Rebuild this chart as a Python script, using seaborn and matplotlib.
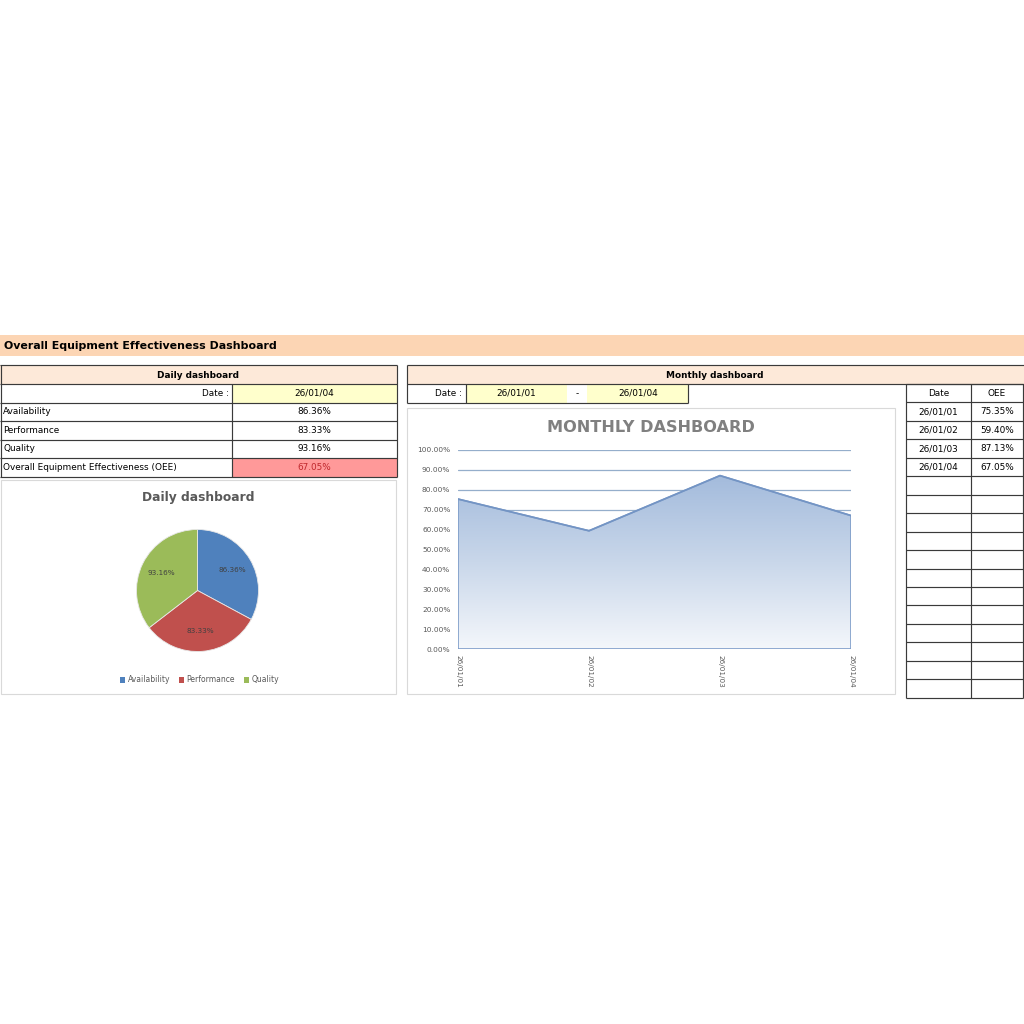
"""OEE dashboard recreation (daily table + pie, monthly area chart + table)."""

import matplotlib
matplotlib.use("Agg")
import matplotlib.pyplot as plt
from matplotlib.patches import Rectangle, Patch
from matplotlib.colors import LinearSegmentedColormap
import numpy as np
import seaborn as sns

# --------------------------------------------------------
#       DATA
# --------------------------------------------------------
dashboard_title = "Overall Equipment Effectiveness Dashboard"
daily_date = "26/01/04"
daily_metrics = ["Availability", "Performance", "Quality"]
daily_values = [86.36, 83.33, 93.16]
oee_label = "Overall Equipment Effectiveness (OEE)"
oee_value = 67.05

range_start = "26/01/01"
range_end = "26/01/04"
monthly_dates = ["26/01/01", "26/01/02", "26/01/03", "26/01/04"]
monthly_oee = [75.35, 59.40, 87.13, 67.05]
n_table_rows = 16     # rows under the Date/OEE header
y_ticks = [0, 10, 20, 30, 40, 50, 60, 70, 80, 90, 100]

# colours
PEACH = "#FCD5B4"
PEACH_LIGHT = "#FDE9D9"
YELLOW = "#FFFFCC"
PINK = "#FF9999"
LINE = "#3A3A3A"
BOX = "#D9D9D9"
pie_colors = ["#4F81BD", "#C0504D", "#9BBB59"]

W = 1024


def fx(px):
    return px / W


def fy(py):
    return 1 - py / W


def cell(ax, x0, y0, x1, y1, fc="none", ec=LINE, lw=0.8, z=1):
    ax.add_patch(Rectangle((x0, y0), x1 - x0, y1 - y0, facecolor=fc,
                           edgecolor=ec, linewidth=lw, zorder=z))


def hline(ax, y, x0, x1, color=LINE, lw=0.85):
    ax.plot([x0, x1], [y, y], color=color, lw=lw, zorder=3, solid_capstyle="butt")


def vline(ax, x, y0, y1, color=LINE, lw=0.85):
    ax.plot([x, x], [y0, y1], color=color, lw=lw, zorder=3, solid_capstyle="butt")


sns.set_theme(style="white")
plt.rcParams["font.family"] = ["DejaVu Sans"]
plt.rcParams["text.color"] = "black"
FS = 6.4

fig = plt.figure(figsize=(10.24, 10.24), dpi=100)
fig.patch.set_facecolor("white")

# background "sheet" axes in pixel coordinates
bg = fig.add_axes([0, 0, 1, 1])
bg.set_xlim(0, W)
bg.set_ylim(W, 0)
bg.axis("off")

# ---- title bar ----
cell(bg, 0, 335, W, 356, fc=PEACH, ec="none")
bg.text(4, 346, dashboard_title, fontsize=7.9, fontweight="bold",
        va="center", ha="left")

# ---- daily table ----
cell(bg, 0, 365, 397, 384, fc=PEACH_LIGHT, ec="none")
bg.text(198, 375, "Daily dashboard", fontsize=FS, fontweight="bold",
        ha="center", va="center")
row_edges = [384, 402.5, 421, 439.5, 458, 476.5]
cell(bg, 232, row_edges[0], 397, row_edges[1], fc=YELLOW, ec="none")
cell(bg, 232, row_edges[4], 397, row_edges[5], fc=PINK, ec="none")
bg.text(229, (row_edges[0] + row_edges[1]) / 2, "Date :", fontsize=FS,
        ha="right", va="center")
bg.text(314, (row_edges[0] + row_edges[1]) / 2, daily_date, fontsize=FS,
        ha="center", va="center")
for i, (name, val) in enumerate(zip(daily_metrics, daily_values)):
    yc = (row_edges[i + 1] + row_edges[i + 2]) / 2
    bg.text(3, yc, name, fontsize=FS, ha="left", va="center")
    bg.text(314, yc, f"{val:.2f}%", fontsize=FS, ha="center", va="center")
yc = (row_edges[4] + row_edges[5]) / 2
bg.text(3, yc, oee_label, fontsize=FS, ha="left", va="center")
bg.text(314, yc, f"{oee_value:.2f}%", fontsize=FS, ha="center", va="center",
        color="#C0282D")
for y in [365] + row_edges:
    hline(bg, y, 0, 397)
vline(bg, 0.5, 365, row_edges[-1])
vline(bg, 397, 365, row_edges[-1])
vline(bg, 232, row_edges[0], row_edges[-1])

# ---- daily pie box ----
cell(bg, 0.5, 480, 396, 694, fc="white", ec=BOX, lw=0.8)
bg.text(198, 497, "Daily dashboard", fontsize=8.8, fontweight="bold",
        ha="center", va="center", color="#595959")

# ---- monthly header ----
cell(bg, 407, 365, W, 384, fc=PEACH_LIGHT, ec="none")
bg.text(715, 375, "Monthly dashboard", fontsize=FS, fontweight="bold",
        ha="center", va="center")
hline(bg, 365, 407, W)
hline(bg, 384, 407, W)
vline(bg, 407, 365, 402.5)

# date range row
cell(bg, 466, 384, 567, 402.5, fc=YELLOW, ec="none")
cell(bg, 587, 384, 688, 402.5, fc=YELLOW, ec="none")
ymid = (384 + 402.5) / 2
bg.text(462, ymid, "Date :", fontsize=FS, ha="right", va="center")
bg.text(516, ymid, range_start, fontsize=FS, ha="center", va="center")
bg.text(577, ymid, "-", fontsize=FS, ha="center", va="center")
bg.text(638, ymid, range_end, fontsize=FS, ha="center", va="center")
hline(bg, 402.5, 407, 688)
vline(bg, 466, 384, 402.5)
vline(bg, 688, 384, 402.5)

# ---- right-hand table ----
tx0, tx1, tx2 = 906, 971, 1023
ty0, rh = 384, 18.45
n_rows = n_table_rows + 1
for i in range(n_rows + 1):
    hline(bg, ty0 + i * rh, tx0, tx2)
for x in (tx0, tx1, tx2):
    vline(bg, x, ty0, ty0 + n_rows * rh)
bg.text((tx0 + tx1) / 2, ty0 + rh / 2, "Date", fontsize=FS, ha="center", va="center")
bg.text((tx1 + tx2) / 2, ty0 + rh / 2, "OEE", fontsize=FS, ha="center", va="center")
for i, (d, v) in enumerate(zip(monthly_dates, monthly_oee)):
    yc = ty0 + (i + 1.5) * rh
    bg.text((tx0 + tx1) / 2, yc, d, fontsize=FS, ha="center", va="center")
    bg.text((tx1 + tx2) / 2, yc, f"{v:.2f}%", fontsize=FS, ha="center", va="center")

# ---- monthly chart box ----
cell(bg, 407, 408, 895, 694, fc="white", ec=BOX, lw=0.8)
bg.text(651, 428, "MONTHLY DASHBOARD", fontsize=11.6, fontweight="bold",
        ha="center", va="center", color="#808080")

# --------------------------------------------------------
#       PIE
# --------------------------------------------------------
cx, cy, r = 197.5, 590.5, 61
ax_pie = fig.add_axes([fx(cx - r), fy(cy + r), 2 * r / W, 2 * r / W])
total = sum(daily_values)
wedges, _, autotexts = ax_pie.pie(
    daily_values, colors=pie_colors, startangle=90, counterclock=False,
    autopct=lambda p: f"{p * total / 100:.2f}%", pctdistance=0.66,
    wedgeprops=dict(edgecolor="#E8E8E8", linewidth=0.6),
    textprops=dict(fontsize=5.2, color="#404040"))
ax_pie.set_xlim(-1, 1)
ax_pie.set_ylim(-1, 1)
ax_pie.set_aspect("equal")
handles = [Patch(facecolor=c, edgecolor="none") for c in pie_colors]
ax_pie.legend(handles, daily_metrics, loc="center",
              bbox_to_anchor=(fx(199.5), fy(680)), bbox_transform=fig.transFigure,
              ncol=3, frameon=False, handlelength=0.7, handleheight=0.7,
              handletextpad=0.35, columnspacing=1.1,
              prop=dict(size=5.5), labelcolor="#595959")

# --------------------------------------------------------
#       AREA CHART
# --------------------------------------------------------
px0, px1, py_top, py_bot = 458, 851, 450, 649
ax = fig.add_axes([fx(px0), fy(py_bot), (px1 - px0) / W, (py_bot - py_top) / W])
ax.set_facecolor("none")
xpos = np.arange(len(monthly_dates))

for t in y_ticks:
    ax.axhline(t, color="#95AECB", lw=0.9, zorder=0.5)

# opaque base under the gradient so gridlines stay hidden behind the area
ax.fill_between(xpos, 0, monthly_oee, facecolor="white", edgecolor="none", zorder=1)
poly = ax.fill_between(xpos, 0, monthly_oee, facecolor="none",
                       edgecolor="#7E9DC9", linewidth=1.2, zorder=3)
cmap = LinearSegmentedColormap.from_list("oee", ["#F4F7FB", "#C9D7EA", "#A3BBDC"])
grad = np.linspace(0, 1, 256).reshape(-1, 1)
im = ax.imshow(grad, extent=[xpos[0], xpos[-1], 0, max(monthly_oee)],
               origin="lower", aspect="auto", cmap=cmap, zorder=2)
im.set_clip_path(poly.get_paths()[0], transform=ax.transData)
sns.lineplot(x=xpos, y=monthly_oee, ax=ax, color="#7394C4", lw=1.2, zorder=4)

ax.set_xlim(xpos[0], xpos[-1])
ax.set_ylim(0, 100)
ax.set_yticks(y_ticks)
ax.set_yticklabels([f"{t:.2f}%" for t in y_ticks], fontsize=5.3, color="#595959")
ax.set_xticks(xpos)
ax.set_xticklabels(monthly_dates, rotation=-90, fontsize=5.2, color="#595959",
                   va="top", ha="center")
ax.tick_params(axis="both", length=0)
ax.tick_params(axis="y", pad=5.5)
ax.tick_params(axis="x", pad=4)
for s in ax.spines.values():
    s.set_visible(False)
ax.grid(False)

fig.savefig("out.png", dpi=100, facecolor="white")
